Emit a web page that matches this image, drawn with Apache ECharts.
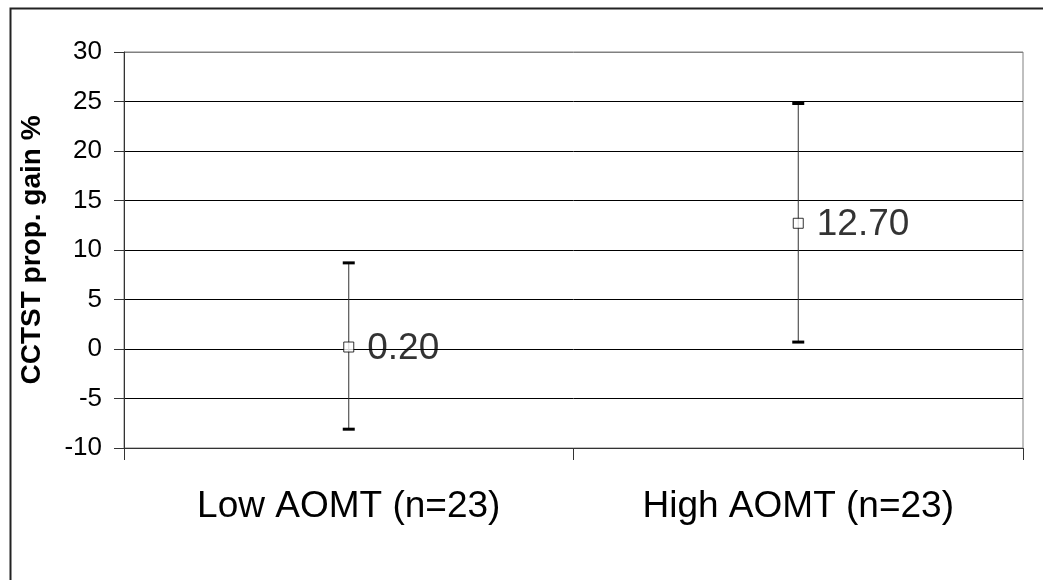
<!DOCTYPE html>
<html>
<head>
<meta charset="utf-8">
<script src="https://cdn.jsdelivr.net/npm/echarts@6/dist/echarts.min.js"></script>
<style>
html,body{margin:0;padding:0;background:#fff;}
#chart{width:1043px;height:580px;}
</style>
</head>
<body>
<div id="chart"></div>
<script>
var categories = ['Low AOMT (n=23)', 'High AOMT (n=23)'];
var means = [0.2, 12.7];
var upper = [8.7, 24.8];
var lower = [-8.1, 0.7];
var yMin = -10, yMax = 30, yStep = 5;

var FONT = '"Liberation Sans", Arial, Helvetica, sans-serif';
var chart = echarts.init(document.getElementById('chart'));

var errData = categories.map(function (c, i) { return [i, lower[i], upper[i]]; });
var meanData = categories.map(function (c, i) { return [i, means[i]]; });

var splitColors = [];
for (var v = yMin; v <= yMax; v += yStep) splitColors.push(v === yMax ? '#808080' : '#000');

chart.setOption({
  animation: false,
  backgroundColor: '#fff',
  grid: { left: 124, right: 20, top: 52, bottom: 132, show: true, borderColor: '#808080', borderWidth: 1, backgroundColor: 'transparent' },
  graphic: [{
    type: 'rect', left: 8, top: 6, silent: true, z: 100,
    shape: { width: 1100, height: 700 },
    style: { fill: 'none', stroke: '#222', lineWidth: 2 }
  }],
  xAxis: {
    type: 'category',
    data: categories,
    boundaryGap: true,
    axisLine: { show: true, onZero: false, lineStyle: { color: '#333', width: 1 } },
    axisTick: { show: true, length: 12, alignWithLabel: false, lineStyle: { color: '#333' } },
    axisLabel: { color: '#000', fontFamily: FONT, fontSize: 37, margin: 40 },
    splitLine: { show: false }
  },
  yAxis: {
    type: 'value',
    min: yMin, max: yMax, interval: yStep,
    name: 'CCTST prop. gain %',
    nameLocation: 'middle',
    nameGap: 78,
    nameTextStyle: { fontFamily: FONT, fontSize: 28, fontWeight: 'bold', color: '#000' },
    axisLine: { show: true, onZero: false, lineStyle: { color: '#333', width: 1 } },
    axisTick: { show: true, length: 10, inside: false, lineStyle: { color: '#333' } },
    axisLabel: { color: '#000', fontFamily: FONT, fontSize: 26, margin: 22 },
    splitLine: { show: true, lineStyle: { color: splitColors, width: 1 } }
  },
  series: [{
    type: 'custom',
    data: errData,
    z: 3,
    renderItem: function (params, api) {
      var x = api.value(0);
      var lo = api.coord([x, api.value(1)]);
      var hi = api.coord([x, api.value(2)]);
      var cw = 6;
      return {
        type: 'group',
        children: [
          { type: 'line', shape: { x1: lo[0], y1: lo[1], x2: hi[0], y2: hi[1] }, style: { stroke: '#333', lineWidth: 1 } },
          { type: 'line', shape: { x1: hi[0] - cw, y1: hi[1], x2: hi[0] + cw, y2: hi[1] }, style: { stroke: '#000', lineWidth: 3 } },
          { type: 'line', shape: { x1: lo[0] - cw, y1: lo[1], x2: lo[0] + cw, y2: lo[1] }, style: { stroke: '#000', lineWidth: 3 } }
        ]
      };
    }
  }, {
    type: 'scatter',
    data: meanData,
    z: 5,
    symbol: 'rect',
    symbolSize: 10,
    itemStyle: { color: '#fff', borderColor: '#000', borderWidth: 1 },
    label: {
      show: true, position: 'right', distance: 13, offset: [0, 2],
      fontFamily: FONT, fontSize: 37, color: '#000', textBorderWidth: 0,
      formatter: function (p) { return p.value[1].toFixed(2); }
    }
  }]
});
</script>
</body>
</html>
